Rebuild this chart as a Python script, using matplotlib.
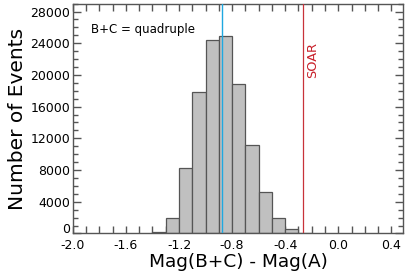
import matplotlib
matplotlib.use("Agg")
import matplotlib.pyplot as plt
from matplotlib.ticker import MultipleLocator
import numpy as np

# histogram of Mag(B+C) - Mag(A), bins of 0.1 mag
bin_edges = np.array([-1.4, -1.3, -1.2, -1.1, -1.0, -0.9, -0.8, -0.7, -0.6, -0.5, -0.4, -0.3, -0.2])
counts = np.array([150, 1950, 8300, 17800, 24350, 24850, 18850, 11200, 5200, 1950, 620, 100])

median_mag = -0.876   # blue line
soar_limit = -0.267   # red line

fig, ax = plt.subplots(figsize=(4.07, 2.75), dpi=100)
fig.subplots_adjust(left=0.179, right=0.991, bottom=0.151, top=0.987)

ax.bar(bin_edges[:-1], counts, width=np.diff(bin_edges), align='edge',
       color='#c0c0c0', edgecolor='#555555', linewidth=0.9, zorder=2)

ax.axvline(median_mag, color='#1fa8e0', linewidth=1.0, zorder=3)
ax.axvline(soar_limit, color='#c8323a', linewidth=0.9, zorder=3)

ax.text(-0.195, 21900, 'SOAR', color='#c8202a', rotation=90,
        ha='center', va='center', fontsize=9.3)
ax.text(-1.86, 25700, 'B+C = quadruple', ha='left', va='center', fontsize=8.5)

ax.set_xlim(-2.0, 0.49)
ax.set_ylim(0, 29000)
ax.set_xticks([-2.0, -1.6, -1.2, -0.8, -0.4, 0.0, 0.4])
ax.set_xticklabels(['-2.0', '-1.6', '-1.2', '-0.8', '-0.4', '0.0', '0.4'])
ax.xaxis.set_minor_locator(MultipleLocator(0.1))
ax.set_yticks(np.arange(0, 28001, 4000))
ax.yaxis.set_minor_locator(MultipleLocator(1000))

ax.tick_params(axis='both', which='both', direction='in', top=True, right=True,
               colors='#555555', labelcolor='black', labelsize=9, width=1.0)
ax.tick_params(axis='x', which='both', length=5, pad=4)
ax.tick_params(axis='y', which='major', length=6, pad=2)
ax.tick_params(axis='y', which='minor', length=3.5)
ylabels = ax.get_yticklabels()
for lbl in ylabels:
    lbl.set_verticalalignment('center_baseline')
ylabels[0].set_verticalalignment('baseline')  # keep "0" clear of "-2.0"
for s in ax.spines.values():
    s.set_color('#555555')
    s.set_linewidth(1.0)

ax.set_xlabel('Mag(B+C) - Mag(A)', fontsize=13.3, labelpad=1)
ax.set_ylabel('Number of Events', fontsize=14.5, labelpad=2)

fig.savefig('out.png', dpi=100)
